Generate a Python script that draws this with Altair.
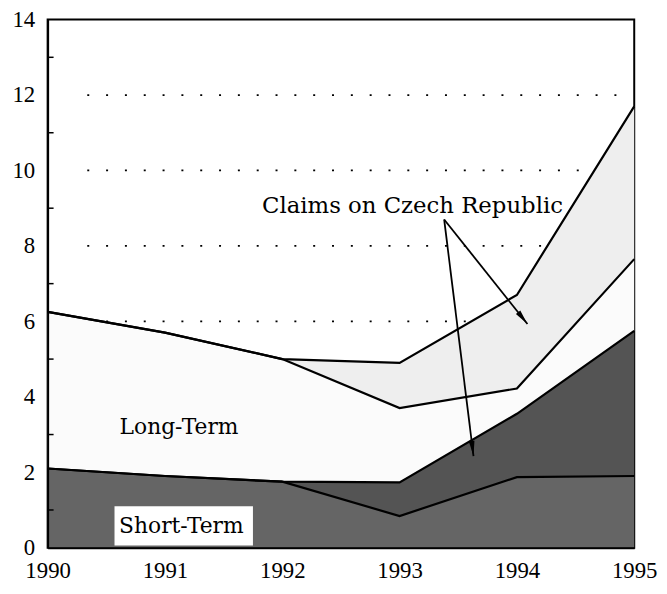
import math
import altair as alt
import pandas as pd

# ---- data ----
years = [1990, 1991, 1992, 1993, 1994, 1995]
short_term = [2.1, 1.9, 1.75, 0.84, 1.87, 1.9]
short_claims = [0.0, 0.0, 0.0, 0.89, 1.68, 3.85]
long_term = [4.15, 3.8, 3.25, 1.97, 0.67, 1.9]
long_claims = [0.0, 0.0, 0.0, 1.2, 2.48, 4.05]

series_names = ["Short-Term", "Short-Term claims", "Long-Term", "Long-Term claims"]
series_colors = ["#656565", "#545454", "#fbfbfb", "#eeeeee"]

y_labels = [0, 2, 4, 6, 8, 10, 12, 14]
grid_values = [2, 4, 6, 8, 10, 12]
minor_ticks = [1, 3, 5, 7, 9, 11, 13]

# ---- build stacked table ----
rows = []
bottoms = [0.0] * len(years)
for i, (name, vals) in enumerate(zip(series_names, [short_term, short_claims, long_term, long_claims])):
    for j, (yr, v) in enumerate(zip(years, vals)):
        rows.append({"year": yr, "series": name, "order": i,
                     "bottom": bottoms[j], "top": bottoms[j] + v})
    bottoms = [b + v for b, v in zip(bottoms, vals)]
df = pd.DataFrame(rows)

W, H = 592, 533
x_scale = alt.Scale(domain=[1990, 1995], nice=False, zero=False)
y_scale = alt.Scale(domain=[0, 14], nice=False)

FONT_AX = "Liberation Serif"
FONT_TX = "DejaVu Serif"

x_axis = alt.Axis(values=years, format="d", title=None, labelFont=FONT_AX,
                  labelFontSize=23, labelColor="black", ticks=False, labelFlush=False,
                  domainColor="black", domainWidth=2, labelPadding=12,
                  grid=False, zindex=1)
y_axis = alt.Axis(values=y_labels, title=None, labelFont=FONT_AX,
                  labelFontSize=23, labelColor="black", ticks=False, labelFlush=False,
                  domainColor="black", domainWidth=2, labelPadding=13,
                  grid=False, zindex=1)

grid = alt.Chart(pd.DataFrame({"g": grid_values})).mark_rule(
    color="black", strokeWidth=1.8, strokeDash=[2, 17]
).encode(
    y=alt.Y("g:Q", scale=y_scale, axis=y_axis),
    x=alt.value(40), x2=alt.value(586),
)

areas = alt.Chart(df).mark_area(interpolate="linear").encode(
    x=alt.X("year:Q", scale=x_scale, axis=x_axis),
    y=alt.Y("top:Q", scale=y_scale, axis=y_axis),
    y2="bottom:Q",
    color=alt.Color("series:N", scale=alt.Scale(domain=series_names, range=series_colors),
                    legend=None),
    order=alt.Order("order:Q"),
)

lines = alt.Chart(df).mark_line(color="black", strokeWidth=2.2).encode(
    x=alt.X("year:Q", scale=x_scale, axis=x_axis),
    y=alt.Y("top:Q", scale=y_scale, axis=y_axis),
    detail="series:N",
)

ticks = alt.Chart(pd.DataFrame({"t": minor_ticks})).mark_rule(
    color="black", strokeWidth=1.5
).encode(
    y=alt.Y("t:Q", scale=y_scale, axis=y_axis),
    x=alt.value(0), x2=alt.value(6),
)

box = alt.Chart(pd.DataFrame({"x": [1990.57], "x2": [1991.75], "y": [0.06], "y2": [1.1]})).mark_rect(
    color="white"
).encode(
    x=alt.X("x:Q", scale=x_scale, axis=x_axis), x2="x2:Q",
    y=alt.Y("y:Q", scale=y_scale, axis=y_axis), y2="y2:Q",
)

labels = alt.Chart(pd.DataFrame({
    "x": [1993.11, 1991.12, 1991.14],
    "y": [9.05, 3.2, 0.58],
    "label": ["Claims on Czech Republic", "Long-Term", "Short-Term"],
    "size": [23, 22, 22],
})).mark_text(font=FONT_TX, color="black", align="center", baseline="middle").encode(
    x=alt.X("x:Q", scale=x_scale, axis=x_axis),
    y=alt.Y("y:Q", scale=y_scale, axis=y_axis),
    text="label:N",
    size=alt.Size("size:Q", scale=None, legend=None),
)

# arrows
ax0, ay0 = 1993.38, 8.70
arrow_ends = [(1994.09, 5.93), (1993.63, 2.43)]
px_x = W / 5.0
px_y = H / 14.0
arr_rows = []
for ex, ey in arrow_ends:
    dx = (ex - ax0) * px_x
    dy = (ay0 - ey) * px_y  # downward in screen
    ang = (math.degrees(math.atan2(dx, -dy))) % 360
    arr_rows.append({"x": ax0, "y": ay0, "x2": ex, "y2": ey, "angle": ang})
arr_df = pd.DataFrame(arr_rows)

arrow_lines = alt.Chart(arr_df).mark_rule(color="black", strokeWidth=1.8).encode(
    x=alt.X("x:Q", scale=x_scale, axis=x_axis), y=alt.Y("y:Q", scale=y_scale, axis=y_axis),
    x2="x2:Q", y2="y2:Q",
)

arrow_heads = alt.Chart(arr_df).mark_point(
    shape="M0,0L0.45,2.4L-0.45,2.4Z", filled=True, color="black", opacity=1, size=160
).encode(
    x=alt.X("x2:Q", scale=x_scale, axis=x_axis), y=alt.Y("y2:Q", scale=y_scale, axis=y_axis),
    angle=alt.Angle("angle:Q", scale=None),
)

chart = alt.layer(grid, areas, lines, ticks, box, labels, arrow_lines, arrow_heads).properties(
    width=W, height=H,
    padding={"left": 40, "top": 9, "right": 25, "bottom": 40},
    autosize=alt.AutoSizeParams(type="none"),
    background="white",
).configure_view(stroke="black", strokeWidth=2).configure_axis(
    labelFont=FONT_AX, labelFontSize=23, labelColor="black"
)

chart.save("out.html", embed_options={"renderer": "svg", "actions": False})
